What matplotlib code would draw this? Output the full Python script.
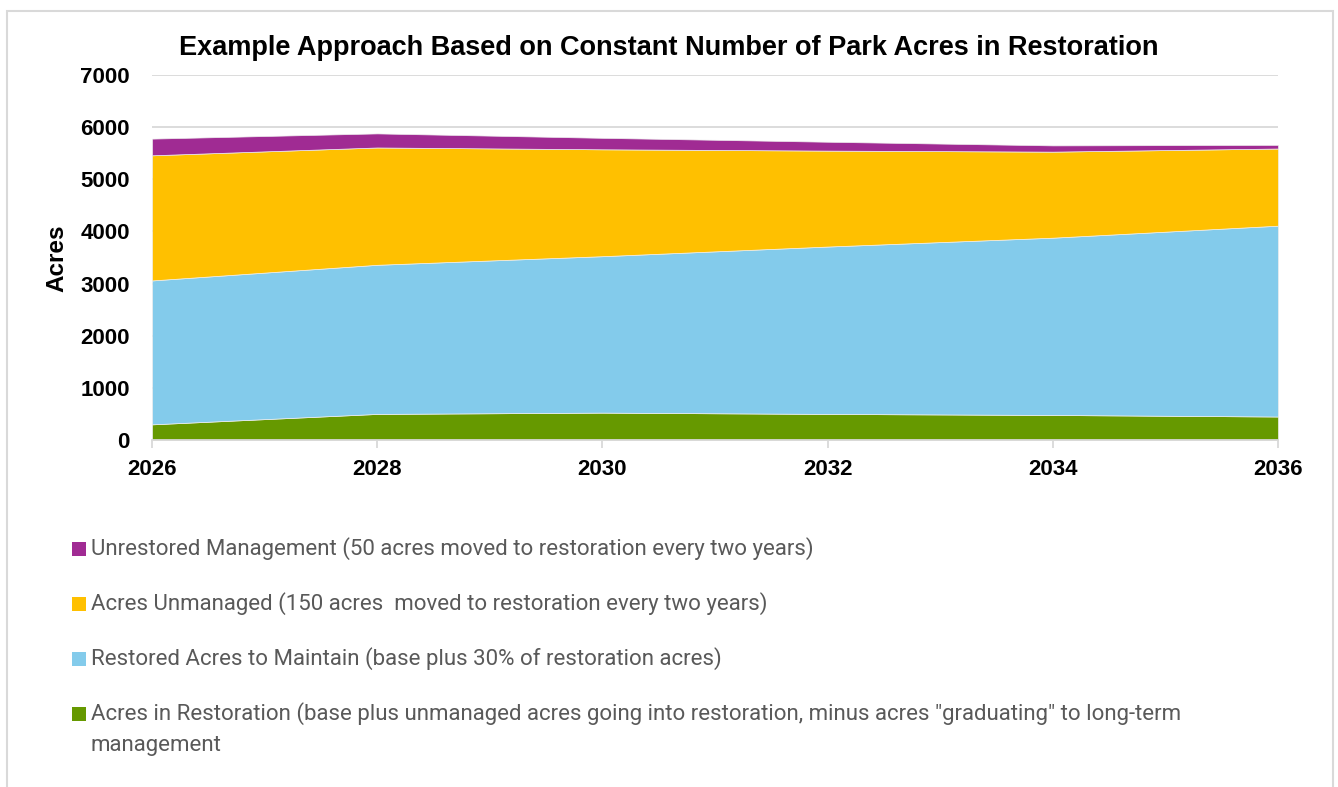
import matplotlib.pyplot as plt
from matplotlib.patches import Rectangle

# acres by year, stacked bottom to top
years = [2026, 2028, 2030, 2032, 2034, 2036]
in_restoration = [300, 500, 525, 500, 480, 450]
restored_maintain = [2760, 2860, 3000, 3210, 3400, 3660]
unmanaged = [2400, 2250, 2050, 1840, 1650, 1480]
unrestored_mgmt = [320, 270, 220, 170, 120, 70]

series_labels = [
    'Acres in Restoration (base plus unmanaged acres going into restoration, minus acres "graduating" to long-term\nmanagement',
    'Restored Acres to Maintain (base plus 30% of restoration acres)',
    'Acres Unmanaged (150 acres  moved to restoration every two years)',
    'Unrestored Management (50 acres moved to restoration every two years)',
]
colors = ['#669900', '#83CBEB', '#FFC000', '#A02B93']

W, H = 1338, 787
fig = plt.figure(figsize=(W / 100, H / 100), dpi=100)
fig.patch.set_facecolor('white')

# outer chart border
fig.add_artist(Rectangle((7 / W, -0.05), (1333 - 7) / W, 1.05 - 11 / H,
                         transform=fig.transFigure, fill=False,
                         edgecolor='#d9d9d9', lw=1.5))

ax = fig.add_axes([152 / W, 1 - 440 / H, (1278 - 152) / W, (440 - 75) / H])
ax.stackplot(years, in_restoration, restored_maintain, unmanaged, unrestored_mgmt,
             colors=colors, edgecolor='#eeeeee', linewidth=0.5, zorder=2)

ax.set_xlim(2026, 2036)
ax.set_ylim(0, 7000)
ax.set_yticks(range(0, 7001, 1000))
ax.set_xticks(years)
ax.grid(axis='y', color='#d9d9d9', lw=1.3, zorder=0)
ax.set_axisbelow(True)
for s in ['top', 'right', 'left']:
    ax.spines[s].set_visible(False)
ax.spines['bottom'].set_color('#d9d9d9')
ax.spines['bottom'].set_linewidth(1.3)
ax.spines['bottom'].set_zorder(3)
ax.tick_params(axis='y', length=0, pad=16)
ax.tick_params(axis='x', length=6, color='#d9d9d9', width=1.3, pad=8)
for lab in ax.get_xticklabels() + ax.get_yticklabels():
    lab.set_fontfamily('Liberation Sans')
    lab.set_fontweight('bold')
    lab.set_fontsize(16)

fig.text(57 / W, 1 - 258 / H, 'Acres', rotation=90, ha='center', va='center',
         family='Liberation Sans', weight='bold', fontsize=17.5)
fig.text(669 / W, 1 - 48 / H,
         'Example Approach Based on Constant Number of Park Acres in Restoration',
         ha='center', va='center', family='Liberation Sans', weight='bold', fontsize=19.5)

# legend, top entry first
row_y = [549, 604, 659, 714]
legend_font = ['Roboto', 'DejaVu Sans']
for i, (lab, col) in enumerate(zip(series_labels[::-1], colors[::-1])):
    yc = row_y[i]
    fig.add_artist(Rectangle((72 / W, 1 - (yc + 7) / H), 14 / W, 14 / H,
                             transform=fig.transFigure, facecolor=col, edgecolor='none'))
    for k, line in enumerate(lab.split('\n')):
        fig.text(91 / W, 1 - (yc + 31 * k) / H, line, ha='left', va='center',
                 family=legend_font, fontsize=16, color='#595959')

fig.savefig('out.png', dpi=100)
